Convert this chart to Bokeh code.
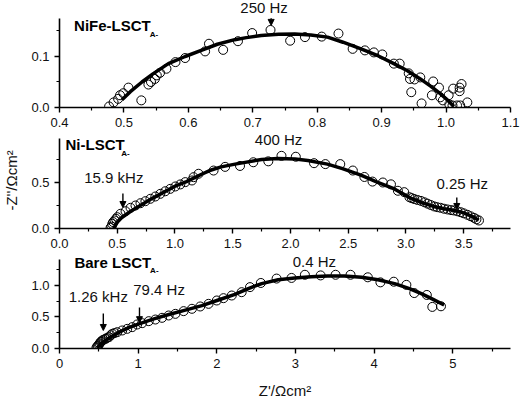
from bokeh.plotting import figure
from bokeh.layouts import column
from bokeh.models import Range1d, FixedTicker, Label, Arrow, NormalHead, PrintfTickFormatter
from bokeh.embed import file_html
from bokeh.resources import INLINE

FONT = "Liberation Sans"

# ---- NiFe-LSCT_A- : measured impedance points and fitted arc ----
nife_zre = [0.477, 0.484, 0.491, 0.494, 0.499, 0.507, 0.527, 0.538, 0.542, 0.548,
            0.551, 0.556, 0.566, 0.580, 0.595, 0.626, 0.632, 0.654, 0.677, 0.699,
            0.7275, 0.758, 0.781, 0.807, 0.833, 0.855, 0.874, 0.888, 0.901, 0.919,
            0.928, 0.942, 0.944, 0.951, 0.946, 0.960, 0.962, 0.980, 0.978, 0.989,
            0.991, 0.995, 1.004, 1.011, 1.021, 1.024, 1.021, 1.033, 1.010, 1.017,
            1.022, 1.005]
nife_zim = [0.002, 0.010, 0.017, 0.024, 0.028, 0.039, 0.014, 0.045, 0.050, 0.056,
            0.063, 0.068, 0.076, 0.089, 0.097, 0.110, 0.125, 0.113, 0.130, 0.146,
            0.152, 0.131, 0.138, 0.139, 0.145, 0.115, 0.112, 0.108, 0.104, 0.086,
            0.086, 0.067, 0.056, 0.055, 0.030, 0.059, 0.008, 0.051, 0.024, 0.039,
            0.020, 0.014, 0.024, 0.037, 0.039, 0.046, 0.032, 0.010, 0.004, 0.004,
            0.004, 0.006]
nife_fit_zre = [0.497, 0.510, 0.528, 0.545, 0.569, 0.595, 0.620, 0.645, 0.672, 0.690,
                0.713, 0.740, 0.765, 0.790, 0.816, 0.840, 0.868, 0.895, 0.919, 0.940,
                0.960, 0.977, 0.991, 1.002, 1.012]
nife_fit_zim = [0.015, 0.031, 0.050, 0.066, 0.086, 0.100, 0.112, 0.124, 0.133, 0.137,
                0.141, 0.1435, 0.144, 0.142, 0.138, 0.128, 0.115, 0.101, 0.086, 0.072,
                0.056, 0.041, 0.027, 0.015, 0.002]

# ---- Ni-LSCT_A- ----
ni_zre = [0.442, 0.450, 0.457, 0.465, 0.477, 0.490, 0.500, 0.528, 0.572, 0.615,
          0.658, 0.701, 0.744, 0.787, 0.830, 0.873, 0.916, 0.959, 1.003, 1.046,
          1.089, 1.147, 1.161, 1.204, 1.334, 1.434, 1.563, 1.678, 1.808, 1.922,
          2.046, 2.204, 2.302, 2.431, 2.540, 2.640, 2.710, 2.800, 2.870, 2.930,
          2.985, 3.030, 3.050, 3.072, 3.100, 3.130, 3.160, 3.187, 3.215, 3.244,
          3.270, 3.300, 3.330, 3.360, 3.390, 3.416, 3.445, 3.474, 3.500, 3.532,
          3.560, 3.589, 3.610, 3.632]
ni_zim = [0.008, 0.020, 0.051, 0.070, 0.087, 0.105, 0.123, 0.160, 0.188, 0.225,
          0.250, 0.275, 0.297, 0.323, 0.348, 0.377, 0.405, 0.431, 0.457, 0.479,
          0.504, 0.522, 0.558, 0.595, 0.630, 0.670, 0.680, 0.720, 0.730, 0.790,
          0.780, 0.710, 0.700, 0.700, 0.630, 0.560, 0.510, 0.500, 0.480, 0.410,
          0.395, 0.340, 0.330, 0.320, 0.310, 0.300, 0.285, 0.270, 0.255, 0.240,
          0.232, 0.225, 0.215, 0.207, 0.200, 0.196, 0.187, 0.177, 0.165, 0.149,
          0.133, 0.116, 0.100, 0.087]
ni_fit_zre = [0.470, 0.500, 0.540, 0.620, 0.800, 1.000, 1.100, 1.230, 1.300, 1.400,
              1.520, 1.750, 1.890, 2.040, 2.150, 2.320, 2.450, 2.610, 2.750, 2.900,
              3.040, 3.140, 3.240, 3.330, 3.420, 3.500, 3.590, 3.630]
ni_fit_zim = [0.000, 0.070, 0.120, 0.190, 0.325, 0.460, 0.510, 0.590, 0.630, 0.670,
              0.700, 0.750, 0.760, 0.755, 0.740, 0.700, 0.650, 0.580, 0.505, 0.430,
              0.330, 0.280, 0.240, 0.215, 0.195, 0.170, 0.120, 0.090]

# ---- Bare LSCT_A- ----
bare_zre = [0.470, 0.481, 0.490, 0.502, 0.510, 0.523, 0.530, 0.544, 0.560, 0.586,
            0.600, 0.629, 0.650, 0.671, 0.700, 0.734, 0.797, 0.861, 0.924, 0.987,
            1.051, 1.135, 1.219, 1.304, 1.388, 1.473, 1.578, 1.684, 1.789, 1.895,
            2.000, 2.085, 2.190, 2.316, 2.422, 2.560, 2.760, 2.950, 3.120, 3.320,
            3.510, 3.700, 3.920, 4.080, 4.250, 4.410, 4.510, 4.670, 4.740, 4.850]
bare_zim = [0.015, 0.032, 0.045, 0.063, 0.080, 0.101, 0.110, 0.127, 0.140, 0.153,
            0.165, 0.180, 0.210, 0.233, 0.245, 0.259, 0.286, 0.312, 0.339, 0.381,
            0.402, 0.434, 0.460, 0.487, 0.524, 0.550, 0.593, 0.630, 0.667, 0.709,
            0.762, 0.799, 0.841, 0.894, 0.974, 1.040, 1.110, 1.120, 1.170, 1.160,
            1.170, 1.170, 1.130, 1.050, 1.060, 1.010, 0.880, 0.850, 0.660, 0.670]
bare_fit_zre = [0.480, 0.530, 0.590, 0.660, 0.760, 0.880, 1.010, 1.200, 1.390, 1.600,
                1.810, 2.020, 2.230, 2.400, 2.570, 2.780, 2.990, 3.200, 3.410, 3.620,
                3.840, 4.050, 4.260, 4.450, 4.600, 4.750, 4.890]
bare_fit_zim = [0.010, 0.080, 0.130, 0.190, 0.260, 0.330, 0.390, 0.470, 0.540, 0.610,
                0.680, 0.770, 0.860, 0.950, 1.030, 1.090, 1.120, 1.140, 1.150, 1.150,
                1.130, 1.090, 1.030, 0.950, 0.870, 0.780, 0.690]

# ---- axis ticks ----
top_xticks = [0.4, 0.5, 0.6, 0.7, 0.8, 0.9, 1.0, 1.1]
top_xminor = [0.45, 0.55, 0.65, 0.75, 0.85, 0.95, 1.05]
top_yticks = [0.0, 0.1]
top_yminor = [0.05, 0.15]
mid_xticks = [0.0, 0.5, 1.0, 1.5, 2.0, 2.5, 3.0, 3.5]
mid_xminor = [0.25, 0.75, 1.25, 1.75, 2.25, 2.75, 3.25, 3.75]
mid_yticks = [0.0, 0.5]
mid_yminor = [0.25, 0.75]
bot_xticks = [0, 1, 2, 3, 4, 5]
bot_xminor = [0.5, 1.5, 2.5, 3.5, 4.5, 5.5]
bot_yticks = [0.0, 0.5, 1.0]
bot_yminor = [0.25, 0.75, 1.25]


def panel(height, bottom, xr, yr, ybounds, xt, xm, yt, ym, xfmt, yfmt):
    # the frame reaches the top of each figure so that labels above the axis
    # are not clipped; the y axis line itself stops at ybounds
    p = figure(width=521, height=height, x_range=Range1d(*xr), y_range=Range1d(*yr),
               output_backend="svg", toolbar_location=None,
               min_border_left=57, min_border_right=11,
               min_border_top=0, min_border_bottom=bottom)
    p.outline_line_color = None
    p.grid.visible = False
    p.background_fill_color = "white"
    p.border_fill_color = "white"
    p.xaxis.ticker = FixedTicker(ticks=xt, minor_ticks=xm)
    p.yaxis.ticker = FixedTicker(ticks=yt, minor_ticks=ym)
    p.yaxis.bounds = ybounds
    p.xaxis.formatter = PrintfTickFormatter(format=xfmt)
    p.yaxis.formatter = PrintfTickFormatter(format=yfmt)
    for ax in (p.xaxis, p.yaxis):
        ax.axis_line_width = 1.6
        ax.axis_line_color = "black"
        ax.major_tick_line_width = 1.4
        ax.minor_tick_line_width = 1.2
        ax.major_tick_line_color = "black"
        ax.minor_tick_line_color = "black"
        ax.major_tick_in = 0
        ax.major_tick_out = 5
        ax.minor_tick_in = 0
        ax.minor_tick_out = 3
        ax.major_label_text_font = FONT
        ax.major_label_text_font_size = "13px"
        ax.major_label_text_color = "#111111"
        ax.major_label_standoff = 5
        ax.axis_label_text_font = FONT
        ax.axis_label_text_font_style = "normal"
        ax.axis_label_text_font_size = "15px"
        ax.axis_label_text_color = "#111111"
    return p


def data_and_fit(p, zre, zim, fzre, fzim):
    p.scatter(zre, zim, marker="circle", size=9, fill_color=None,
              line_color="black", line_width=1.0)
    p.line(fzre, fzim, line_color="black", line_width=3.5)


def name_label(p, x, y, xs, ys, name):
    p.add_layout(Label(x=x, y=y, text=name, text_font=FONT, text_font_size="15px",
                       text_font_style="bold", text_color="black"))
    p.add_layout(Label(x=xs, y=ys, text="A-", text_font=FONT, text_font_size="8px",
                       text_font_style="bold", text_color="black"))


def freq(p, x, y, text):
    p.add_layout(Label(x=x, y=y, text=text, text_font=FONT, text_font_size="15px",
                       text_align="center", text_color="#111111"))


def arrow(p, x, y0, y1):
    p.add_layout(Arrow(x_start=x, y_start=y0, x_end=x, y_end=y1, line_width=1.4,
                       line_color="black",
                       end=NormalHead(size=6, fill_color="black", line_color="black",
                                      line_width=1)))


# top panel
p1 = panel(132, 25, (0.4, 1.1), (0.0, 0.2098), (0.0, 0.175), top_xticks, top_xminor,
           top_yticks, top_yminor, "%.1f", "%.1f")
data_and_fit(p1, nife_zre, nife_zim, nife_fit_zre, nife_fit_zim)
name_label(p1, 0.4226, 0.145, 0.540, 0.134, "NiFe-LSCT")
freq(p1, 0.7175, 0.180, "250 Hz")
arrow(p1, 0.7285, 0.175, 0.161)

# middle panel
p2 = panel(122, 26, (0.0, 3.905), (0.0, 1.0435), (0.0, 0.978), mid_xticks, mid_xminor,
           mid_yticks, mid_yminor, "%.1f", "%.1f")
p2.yaxis.axis_label = "-Z''/\u03a9cm\u00b2"
p2.yaxis.axis_label_standoff = 8
data_and_fit(p2, ni_zre, ni_zim, ni_fit_zre, ni_fit_zim)
name_label(p2, 0.052, 0.826, 0.534, 0.766, "Ni-LSCT")
freq(p2, 1.897, 0.875, "400 Hz")
freq(p2, 0.47, 0.467, "15.9 kHz")
arrow(p2, 0.549, 0.38, 0.228)
freq(p2, 3.487, 0.40, "0.25 Hz")
arrow(p2, 3.44, 0.337, 0.207)

# bottom panel
p3 = panel(148, 54, (0.0, 5.734), (0.0, 1.492), (0.0, 1.413), bot_xticks, bot_xminor,
           bot_yticks, bot_yminor, "%d", "%.1f")
p3.xaxis.axis_label = "Z'/\u03a9cm\u00b2"
p3.xaxis.axis_label_standoff = 11
data_and_fit(p3, bare_zre, bare_zim, bare_fit_zre, bare_fit_zim)
name_label(p3, 0.19, 1.238, 1.152, 1.159, "Bare LSCT")
freq(p3, 0.494, 0.683, "1.26 kHz")
arrow(p3, 0.557, 0.556, 0.286)
freq(p3, 1.266, 0.794, "79.4 Hz")
arrow(p3, 1.017, 0.65, 0.41)
freq(p3, 3.24, 1.250, "0.4 Hz")

layout = column(p1, p2, p3, spacing=0)
open("out.html", "w").write(file_html(layout, INLINE))
